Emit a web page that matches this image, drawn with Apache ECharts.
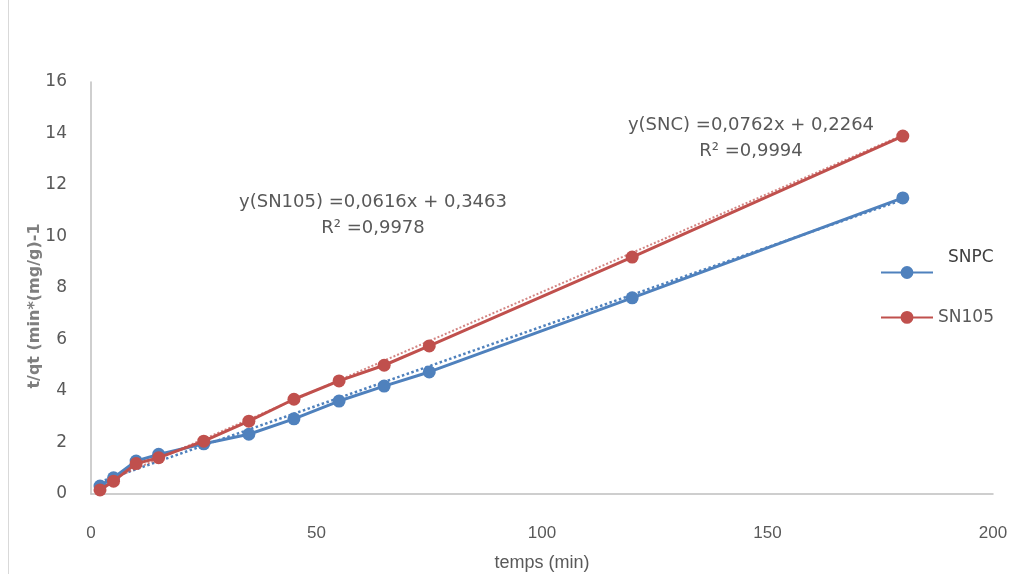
<!DOCTYPE html>
<html>
<head>
<meta charset="utf-8">
<script src="https://cdn.jsdelivr.net/npm/echarts@6/dist/echarts.min.js"></script>
<style>
html,body{margin:0;padding:0;background:#fff;}
#chart{width:1014px;height:574px;}
</style>
</head>
<body>
<div id="chart"></div>
<script>
// Data
var times = [2, 5, 10, 15, 25, 35, 45, 55, 65, 75, 120, 180];
var snpc  = [0.31, 0.63, 1.28, 1.54, 1.95, 2.32, 2.92, 3.61, 4.19, 4.74, 7.62, 11.5];
var sn105 = [0.16, 0.50, 1.18, 1.41, 2.05, 2.83, 3.68, 4.39, 5.00, 5.75, 9.20, 13.9];
// trend line end points (from the equations printed on the chart)
var trendSNPC  = [[2, 0.47], [180, 11.43]];
var trendSN105 = [[2, 0.38], [180, 13.94]];
var xTicks = [0, 50, 100, 150, 200];
var yTicks = [0, 2, 4, 6, 8, 10, 12, 14, 16];
var eqSN105 = ['y(SN105) =0,0616x + 0,3463', 'R\u00b2 =0,9978'];
var eqSNC = ['y(SNC) =0,0762x + 0,2264', 'R\u00b2 =0,9994'];

var blue = '#4F81BD', red = '#C0504D', grey = '#595959';

function pairs(xs, ys){ return xs.map(function(x,i){ return [x, ys[i]]; }); }

var chart = echarts.init(document.getElementById('chart'));
chart.setOption({
  backgroundColor: '#fff',
  animation: false,
  grid: {left: 91, right: 21, top: 82, bottom: 80, containLabel: false, outerBoundsMode: 'none'},
  xAxis: {
    type: 'value', min: xTicks[0], max: xTicks[xTicks.length-1], interval: 50,
    axisLine: {show: true, lineStyle: {color: '#BFBFBF', width: 1.5}},
    axisTick: {show: false},
    splitLine: {show: false},
    axisLabel: {color: grey, fontFamily: 'Liberation Sans', fontSize: 17, margin: 31},
    name: 'temps (min)', nameLocation: 'middle', nameGap: 60, nameMoveOverlap: false,
    nameTextStyle: {color: grey, fontFamily: 'Liberation Sans', fontSize: 18}
  },
  yAxis: {
    type: 'value', min: yTicks[0], max: yTicks[yTicks.length-1], interval: 2,
    axisLine: {show: true, lineStyle: {color: '#BFBFBF', width: 1.5}},
    axisTick: {show: false},
    splitLine: {show: false},
    axisLabel: {color: grey, fontFamily: 'DejaVu Sans', fontSize: 17, margin: 24},
    name: 't/qt (min*(mg/g)-1', nameLocation: 'middle', nameGap: 48, nameRotate: 90, nameMoveOverlap: false,
    nameTextStyle: {color: '#7F7F7F', fontFamily: 'DejaVu Sans', fontSize: 16, fontWeight: 'bold', padding: [0, 36, 0, 0]}
  },
  legend: {
    orient: 'vertical', left: 880, top: 249, itemGap: 30, padding: 0,
    itemWidth: 52, itemHeight: 16,
    formatter: function(n){ return n === 'SNPC' ? '{up|' + n + '}' : n; },
    data: ['SNPC', 'SN105'],
    textStyle: {color: grey, fontFamily: 'DejaVu Sans', fontSize: 17,
      rich: {up: {color: '#404040', fontFamily: 'DejaVu Sans', fontSize: 17, padding: [0, 0, 30, 10]}}}
  },
  series: [
    {
      name: 'SNPC trend', type: 'line', data: trendSNPC, symbol: 'none', silent: true,
      lineStyle: {color: blue, width: 2.5, type: 'dotted'}, z: 1
    },
    {
      name: 'SN105 trend', type: 'line', data: trendSN105, symbol: 'none', silent: true,
      lineStyle: {color: red, width: 2, type: 'dotted', opacity: 0.7}, z: 1
    },
    {
      name: 'SNPC', type: 'line', data: pairs(times, snpc),
      symbol: 'circle', symbolSize: 13,
      itemStyle: {color: blue}, lineStyle: {color: blue, width: 3}, z: 2
    },
    {
      name: 'SN105', type: 'line', data: pairs(times, sn105),
      symbol: 'circle', symbolSize: 13,
      itemStyle: {color: red}, lineStyle: {color: red, width: 3}, z: 3
    }
  ],
  graphic: [
    {type: 'line', shape: {x1: 8.5, y1: 0, x2: 8.5, y2: 574}, style: {stroke: '#D9D9D9', lineWidth: 1}},
    {type: 'text', x: 373, y: 189, style: {text: eqSN105.join('\n'), fill: grey, font: '18px "DejaVu Sans"', align: 'center', verticalAlign: 'top', lineHeight: 26}},
    {type: 'text', x: 751, y: 112, style: {text: eqSNC.join('\n'), fill: grey, font: '18px "DejaVu Sans"', align: 'center', verticalAlign: 'top', lineHeight: 26}}
  ]
});
</script>
</body>
</html>
